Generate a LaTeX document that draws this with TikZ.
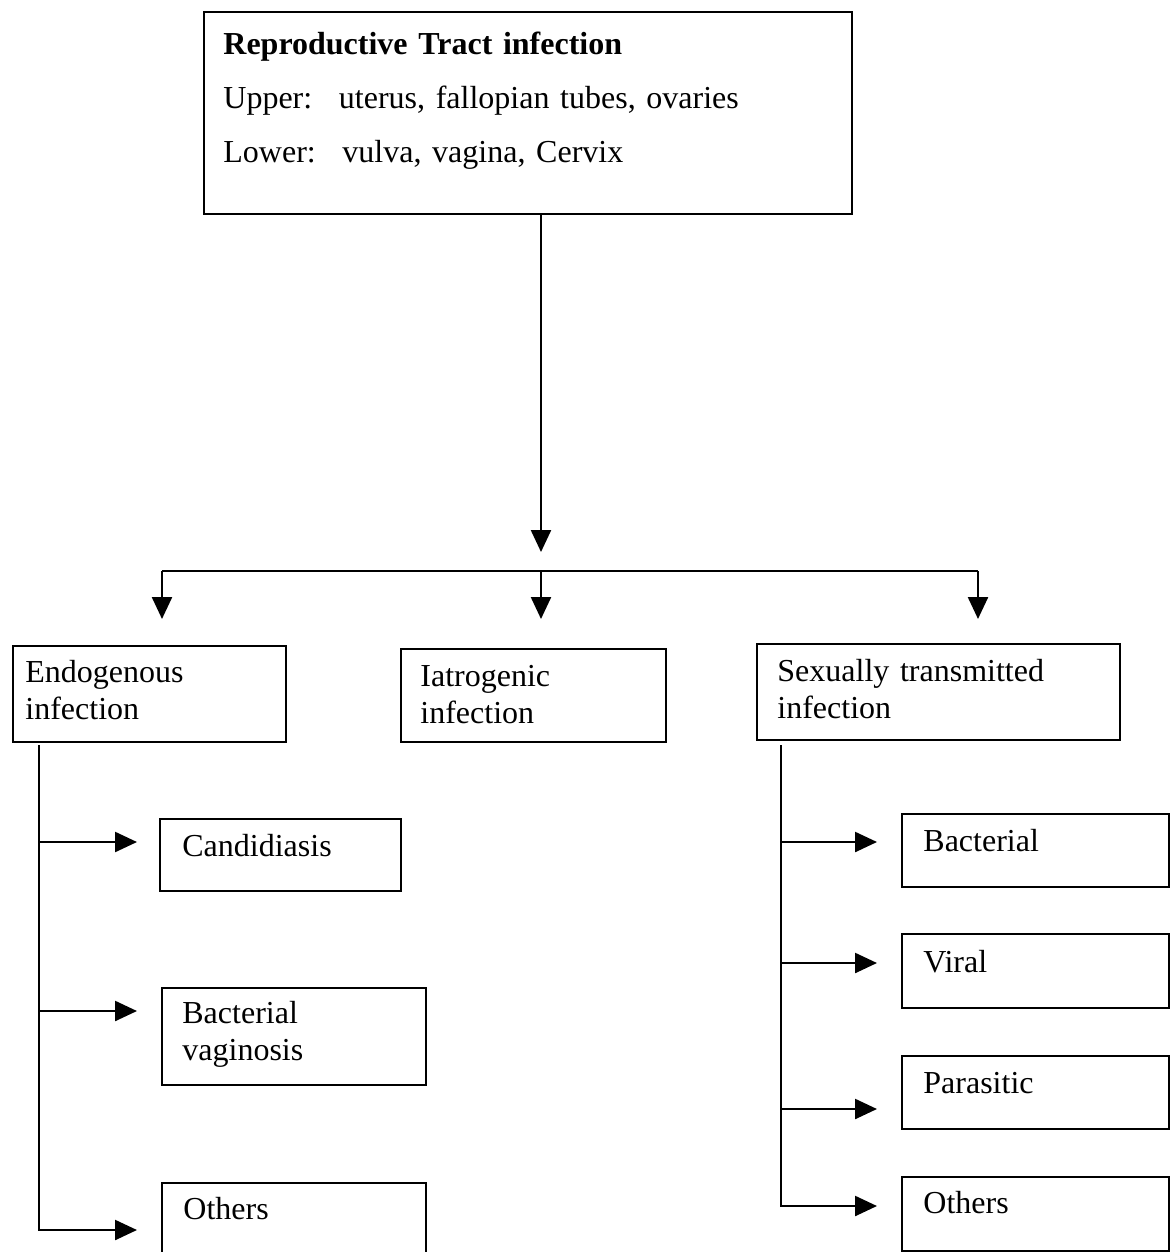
\documentclass[tikz,border=0pt]{standalone}
\usepackage{fontspec}
\setmainfont{Liberation Serif}
\usetikzlibrary{arrows.meta}
\begin{document}
\begin{tikzpicture}[x=0.5pt,y=-0.5pt,
  box/.style={draw, line width=1.2pt, inner sep=0pt, anchor=north west},
  lbl/.style={anchor=base west, inner sep=0pt, font=\fontsize{16pt}{18.5pt}\selectfont, align=left},
  conn/.style={line width=1.2pt},
  arr/.style={conn, -{Triangle[length=11pt,width=10pt]}}]
\useasboundingbox (0,0) rectangle (1175,1252);

% boxes
\node[box, minimum width=324pt, minimum height=101pt] (top) at (203,11) {};
\node[box, minimum width=136.5pt, minimum height=48pt] (endo) at (12,645) {};
\node[box, minimum width=132.5pt, minimum height=46.5pt] (iatro) at (400,648) {};
\node[box, minimum width=181.5pt, minimum height=48pt] (sti) at (756,643) {};
\node[box, minimum width=120.5pt, minimum height=36pt] (cand) at (159,818) {};
\node[box, minimum width=132pt, minimum height=48.5pt] (bv) at (161,987) {};
\node[box, minimum width=132pt, minimum height=40pt] (othL) at (161,1182) {};
\node[box, minimum width=133.5pt, minimum height=36.5pt] (bact) at (901,813) {};
\node[box, minimum width=133.5pt, minimum height=37pt] (viral) at (901,933) {};
\node[box, minimum width=133.5pt, minimum height=36.5pt] (para) at (901,1055) {};
\node[box, minimum width=133.5pt, minimum height=37pt] (othR) at (901,1176) {};

% texts
\node[lbl, text width=320pt, font=\fontsize{16pt}{27pt}\selectfont] (topT) at (223,55)
  {\textbf{Reproductive Tract infection}\\Upper:~ uterus, fallopian tubes, ovaries\\Lower:~ vulva, vagina, Cervix};
\node[lbl, text width=130pt] (endoT) at (25,682) {Endogenous\\infection};
\node[lbl, text width=125pt] (iatroT) at (420,686) {Iatrogenic\\infection};
\node[lbl, text width=175pt] (stiT) at (777,681) {Sexually transmitted\\infection};
\node[lbl] (candT) at (182,856) {Candidiasis};
\node[lbl, text width=125pt] (bvT) at (182,1023) {Bacterial\\vaginosis};
\node[lbl] (othLT) at (183,1219) {Others};
\node[lbl] (bactT) at (923,851) {Bacterial};
\node[lbl] (viralT) at (923,972) {Viral};
\node[lbl] (paraT) at (923,1093) {Parasitic};
\node[lbl] (othRT) at (923,1213) {Others};

% connector coordinates
\coordinate (split) at (541,571);
\coordinate (splitTip) at (541,552);
\coordinate (bl) at (162,571);
\coordinate (br) at (978,571);
\coordinate (blTip) at (162,619);
\coordinate (bmTip) at (541,619);
\coordinate (brTip) at (978,619);

\draw[arr] (top.south -| split) -- (splitTip);
\draw[conn] (bl) -- (br);
\draw[arr] (bl) -- (blTip);
\draw[arr] (split) -- (bmTip);
\draw[arr] (br) -- (brTip);

% left branch
\coordinate (lv) at (39,745);
\coordinate (l1) at (39,842);  \coordinate (l1e) at (137,842);
\coordinate (l2) at (39,1011); \coordinate (l2e) at (137,1011);
\coordinate (l3) at (39,1230); \coordinate (l3e) at (137,1230);
\draw[arr] (lv) -- (l3) -- (l3e);
\draw[arr] (l1) -- (l1e);
\draw[arr] (l2) -- (l2e);

% right branch
\coordinate (rv) at (781,745);
\coordinate (r1) at (781,842);  \coordinate (r1e) at (877,842);
\coordinate (r2) at (781,963);  \coordinate (r2e) at (877,963);
\coordinate (r3) at (781,1109); \coordinate (r3e) at (877,1109);
\coordinate (r4) at (781,1206); \coordinate (r4e) at (877,1206);
\draw[arr] (rv) -- (r4) -- (r4e);
\draw[arr] (r1) -- (r1e);
\draw[arr] (r2) -- (r2e);
\draw[arr] (r3) -- (r3e);
\end{tikzpicture}
\end{document}
